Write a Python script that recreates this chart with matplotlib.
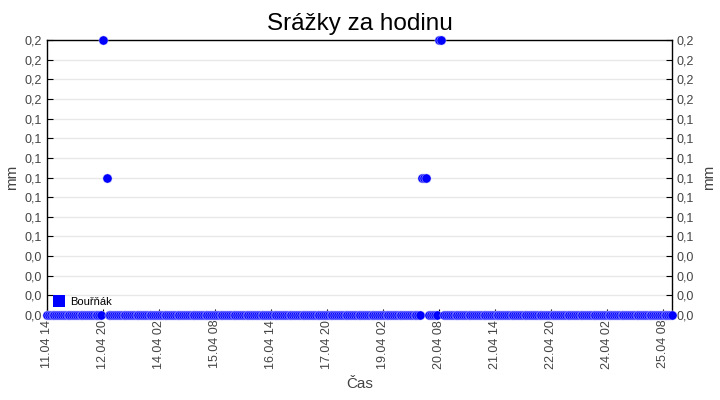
import numpy as np
import pandas as pd
import matplotlib
matplotlib.use('Agg')
import matplotlib.pyplot as plt
import matplotlib.dates as mdates
from matplotlib.ticker import FuncFormatter

plt.rcParams['font.family'] = ['Liberation Sans', 'DejaVu Sans']

# hourly series, 11.04 14:00 .. 25.04 13:00
start = '2024-04-11 14:00'
n_hours = 336
# non-zero / missing hours (index from start)
rain_events = {30: 0.2, 32: 0.1, 201: 0.1, 202: 0.1, 203: 0.1, 210: 0.2, 211: 0.2}
missing_hours = [31, 204, 212]
series_name = 'Bouřňák'
y_ticks = np.linspace(0, 0.2, 15)

times = pd.date_range(start, periods=n_hours, freq='h')
rain = pd.Series(0.0, index=times)
for h, v in rain_events.items():
    rain.iloc[h] = v
for h in missing_hours:
    rain.iloc[h] = np.nan

fig = plt.figure(figsize=(7.2, 4.0), dpi=100)
ax = fig.add_axes([0.0653, 0.2125, 0.8680, 0.6875])

ax.plot(rain.index, rain.values, linestyle='none', marker='o', markersize=6.6,
        markerfacecolor='#0000ff', markeredgecolor='#e0e0ff', markeredgewidth=0.3,
        clip_on=False, zorder=3, label=series_name)

ax.set_xlim(times[0], times[-1])
ax.set_ylim(0, 0.2)

grey = '#444444'
ax.set_yticks(y_ticks)
fmt = FuncFormatter(lambda v, p: f'{v:.1f}'.replace('.', ','))
ax.yaxis.set_major_formatter(fmt)
ax.yaxis.grid(True, color='#e8e8e8', linewidth=1)
ax.set_axisbelow(True)

xt = pd.date_range(start, periods=12, freq='30h')
ax.set_xticks(xt)
ax.xaxis.set_major_formatter(mdates.DateFormatter('%d.%m %H'))
ax.tick_params(axis='x', direction='in', length=4, labelrotation=90, labelsize=9, colors='black', labelcolor=grey)
ax.tick_params(axis='y', direction='in', length=4, labelsize=9, labelcolor=grey,
               right=True, labelright=True)

for s in ax.spines.values():
    s.set_color('black')
    s.set_linewidth(1)

ax.set_ylabel('mm', color=grey, fontsize=11, labelpad=4)
ax2 = ax.secondary_yaxis('right')
ax2.set_yticks([])
ax2.spines['right'].set_visible(False)
ax2.set_ylabel('mm', color=grey, fontsize=11, labelpad=22)
ax.set_xlabel('Čas', color=grey, fontsize=11, labelpad=6)
ax.set_title('Srážky za hodinu', fontsize=17.5, color='black', pad=7)

leg = ax.legend(loc='lower left', frameon=False, fontsize=8, handlelength=0.8,
                handletextpad=0.6, borderaxespad=0.3)
for h in leg.legend_handles:
    h.set_marker('s')
    h.set_markersize(8)
    h.set_markeredgewidth(0)

fig.savefig('out.png', dpi=100)
